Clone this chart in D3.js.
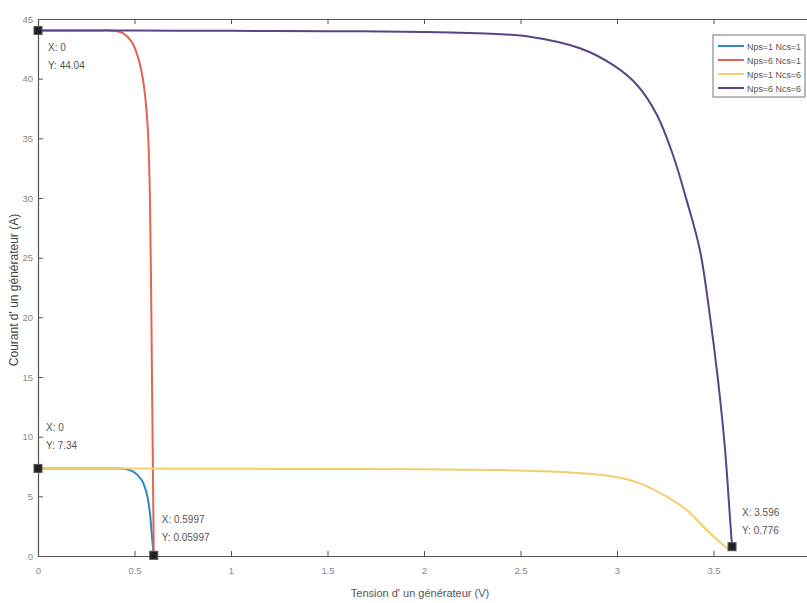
<!DOCTYPE html>
<html><head><meta charset="utf-8">
<script src="https://cdn.jsdelivr.net/npm/d3@7"></script>
<style>
body{margin:0;background:#fff;}
text{font-family:"Liberation Sans",Arial,sans-serif;}
</style></head>
<body><svg id="c" width="807" height="603"></svg>
<script>
const xTicks=[0,0.5,1,1.5,2,2.5,3,3.5];
const xTickLabels=["0","0.5","1","1.5","2","2.5","3","3.5"];
const yTicks=[0,5,10,15,20,25,30,35,40,45];
const seriesNames=["Nps=1 Ncs=1","Nps=6 Ncs=1","Nps=1 Ncs=6","Nps=6 Ncs=6"];
const seriesColors=["#2f86c8","#e06650","#f2cf6a","#5a4388"];
const blueV=[0,0.1,0.2,0.3,0.4,0.442,0.494,0.537,0.563,0.58,0.589,0.5997];
const blueI=[7.34,7.34,7.34,7.34,7.34,7.32,7.07,6.37,5.25,3.58,1.9,0.06];
const redV=[0,0.1,0.2,0.3,0.39,0.442,0.485,0.52,0.546,0.563,0.572,0.58,0.585,0.59,0.595,0.5997];
const redI=[44.04,44.04,44.04,44.04,44.02,43.8,43.1,41.7,39.7,37.2,34.8,30,24,16,8,0.36];
const yellowV=[0,0.5,1,1.5,2,2.394,2.739,2.964,3.119,3.257,3.361,3.465,3.551,3.585];
const yellowI=[7.34,7.33,7.31,7.29,7.26,7.2,7.01,6.7,6.09,4.97,3.85,2.18,0.9,0.5];
const purpleV=[0,0.5,1,1.5,2,2.29,2.549,2.808,2.979,3.104,3.207,3.29,3.361,3.43,3.482,3.525,3.56,3.585,3.596];
const purpleI=[44.04,44.03,44.01,43.98,43.92,43.8,43.52,42.55,41.15,39.47,36.96,33.6,29.8,25.6,20.05,14.5,8.9,3.3,0.776];
const tipX=[0,0,0.5997,3.596];
const tipY=[44.04,7.34,0.05997,0.776];
const tipLabelX=["X: 0","X: 0","X: 0.5997","X: 3.596"];
const tipLabelY=["Y: 44.04","Y: 7.34","Y: 0.05997","Y: 0.776"];

const svg=d3.select("#c");
const L=38,R=810,T=19,B=556;
const x=d3.scaleLinear().domain([0,4]).range([L,R]);
const y=d3.scaleLinear().domain([0,45]).range([B,T]);
const axisColor="#555", labColor="#888";

// axes
const xa=svg.append("g").attr("transform",`translate(0,${B})`)
  .call(d3.axisBottom(x).tickValues(xTicks).tickFormat((d,i)=>xTickLabels[i]).tickSizeInner(-5).tickSizeOuter(0).tickPadding(11));
const xt=svg.append("g").attr("transform",`translate(0,${T})`)
  .call(d3.axisTop(x).tickValues(xTicks).tickFormat("").tickSizeInner(-5).tickSizeOuter(0));
const ya=svg.append("g").attr("transform",`translate(${L},0)`)
  .call(d3.axisLeft(y).tickValues(yTicks).tickSizeInner(-5).tickSizeOuter(0).tickPadding(5));
[xa,xt,ya].forEach(g=>{
  g.select(".domain").attr("stroke",axisColor).attr("stroke-width",1.2);
  g.selectAll(".tick line").attr("stroke",axisColor);
  g.selectAll(".tick text").attr("fill",labColor).attr("font-size",9.5);
});

// curves
const data=[[blueV,blueI],[redV,redI],[yellowV,yellowI],[purpleV,purpleI]];
const line=d3.line().x(d=>x(d[0])).y(d=>y(d[1])).curve(d3.curveCatmullRom.alpha(0.5));
data.forEach((s,i)=>{
  const pts=s[0].map((v,j)=>[v,s[1][j]]);
  svg.append("path").attr("d",line(pts)).attr("fill","none")
    .attr("stroke",seriesColors[i]).attr("stroke-width",2);
});

// data tips
const tipOff=[[10,21,39],[8,-37,-19],[8,-32,-14],[10,-31,-13]];
tipX.forEach((tx,i)=>{
  const px=x(tx),py=y(tipY[i]);
  svg.append("rect").attr("x",px-4).attr("y",py-4).attr("width",8).attr("height",8)
    .attr("fill","#222").attr("stroke","#555");
  svg.append("text").attr("x",px+tipOff[i][0]).attr("y",py+tipOff[i][1]).text(tipLabelX[i])
    .attr("font-size",10).attr("fill","#555");
  svg.append("text").attr("x",px+tipOff[i][0]).attr("y",py+tipOff[i][2]).text(tipLabelY[i])
    .attr("font-size",10).attr("fill","#555");
});

// legend
const lg=svg.append("g").attr("transform","translate(713,35)");
lg.append("rect").attr("width",92).attr("height",62).attr("fill","#fff").attr("stroke","#777");
seriesNames.forEach((n,i)=>{
  const yy=11+i*14;
  lg.append("line").attr("x1",5).attr("x2",31).attr("y1",yy).attr("y2",yy)
    .attr("stroke",seriesColors[i]).attr("stroke-width",2);
  lg.append("text").attr("x",34).attr("y",yy+3.5).text(n).attr("font-size",8.5).attr("fill","#555")
    .attr("textLength",54).attr("lengthAdjust","spacingAndGlyphs");
});

// titles
svg.append("text").attr("x",420).attr("y",597).attr("text-anchor","middle")
  .attr("font-size",11).attr("fill","#555").text("Tension d' un générateur (V)");
svg.append("text").attr("transform","translate(18,290) rotate(-90)").attr("text-anchor","middle")
  .attr("font-size",12).attr("fill","#444")
  .text("Courant d' un générateur (A)");
</script></body></html>
